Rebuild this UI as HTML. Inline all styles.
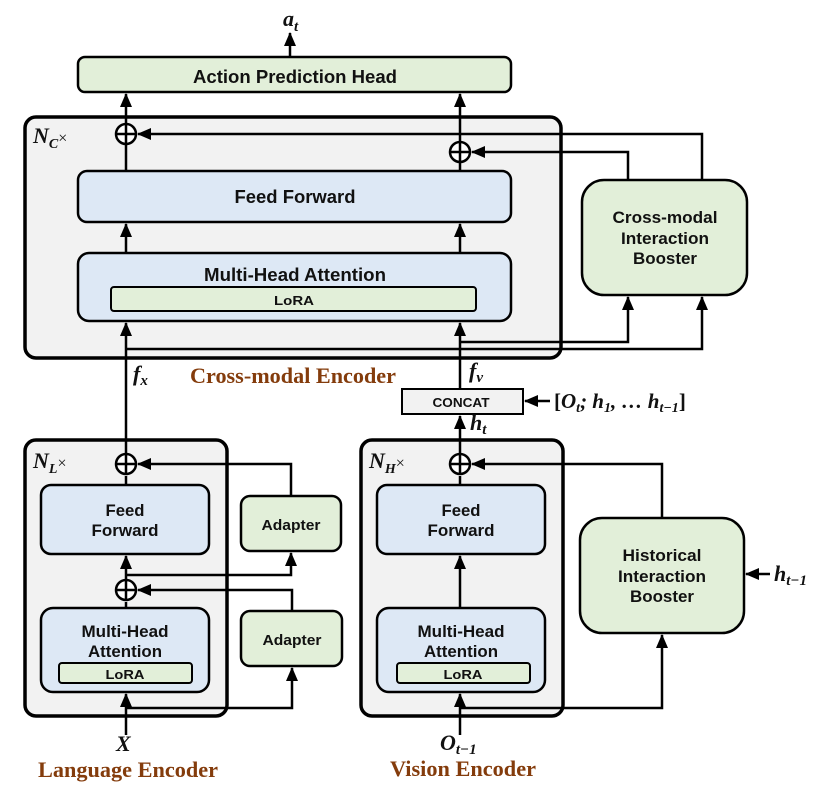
<!DOCTYPE html>
<html><head><meta charset="utf-8"><style>
html,body{margin:0;padding:0;background:#fff;}
svg{display:block;}
.lbl{font-family:"Liberation Sans",sans-serif;font-weight:bold;fill:#111;}
.m{font-family:"Liberation Serif",serif;font-style:italic;font-weight:bold;fill:#111;}
.br{font-family:"Liberation Serif",serif;font-weight:bold;fill:#843c0c;font-size:22px;}
</style></head><body>
<svg width="830" height="799" viewBox="0 0 830 799" xmlns="http://www.w3.org/2000/svg">
<defs>
<marker id="b" markerWidth="14" markerHeight="12" refX="13" refY="6" orient="auto" markerUnits="userSpaceOnUse" viewBox="0 0 14 12">
<path d="M0,0 L14,6 L0,12 z" fill="#000"/></marker>
</defs>
<g stroke="#000" fill="none" stroke-width="2.5">
<rect x="25" y="117" width="536" height="241" rx="11" fill="#f2f2f2" stroke-width="3.5"/>
<rect x="25" y="440" width="202" height="276" rx="11" fill="#f2f2f2" stroke-width="3.5"/>
<rect x="361" y="440" width="202" height="276" rx="11" fill="#f2f2f2" stroke-width="3.5"/>
<rect x="78" y="57" width="433" height="35" rx="7" fill="#e2efd9"/>
<rect x="78" y="171" width="433" height="51" rx="9" fill="#dde8f5"/>
<rect x="78" y="253" width="433" height="68" rx="11" fill="#dde8f5"/>
<rect x="111" y="287" width="365" height="24" rx="3" fill="#e2efd9" stroke-width="2"/>
<rect x="582" y="180" width="165" height="115" rx="22" fill="#e2efd9"/>
<rect x="402" y="389" width="121" height="25" fill="#f2f2f2" stroke-width="2"/>
<rect x="41" y="485" width="168" height="69" rx="10" fill="#dde8f5"/>
<rect x="41" y="608" width="168" height="84" rx="12" fill="#dde8f5"/>
<rect x="59" y="663" width="133" height="20" rx="3" fill="#e2efd9" stroke-width="2"/>
<rect x="241" y="496" width="100" height="55" rx="9" fill="#e2efd9"/>
<rect x="241" y="611" width="101" height="55" rx="9" fill="#e2efd9"/>
<rect x="377" y="485" width="168" height="69" rx="10" fill="#dde8f5"/>
<rect x="377" y="608" width="168" height="84" rx="12" fill="#dde8f5"/>
<rect x="397" y="663" width="133" height="20" rx="3" fill="#e2efd9" stroke-width="2"/>
<rect x="580" y="518" width="164" height="115" rx="22" fill="#e2efd9"/>

<line x1="290" y1="57" x2="290" y2="33" marker-end="url(#b)"/>
<line x1="126" y1="171" x2="126" y2="94" marker-end="url(#b)"/>
<line x1="460" y1="171" x2="460" y2="94" marker-end="url(#b)"/>
<line x1="126" y1="253" x2="126" y2="224" marker-end="url(#b)"/>
<line x1="460" y1="253" x2="460" y2="224" marker-end="url(#b)"/>
<line x1="126" y1="464" x2="126" y2="323" marker-end="url(#b)"/>
<line x1="460" y1="389" x2="460" y2="323" marker-end="url(#b)"/>
<polyline points="702,180 702,134 138,134" marker-end="url(#b)"/>
<polyline points="628,180 628,152 472,152" marker-end="url(#b)"/>
<polyline points="460,342 628,342 628,297" marker-end="url(#b)"/>
<polyline points="126,349 702,349 702,297" marker-end="url(#b)"/>
<line x1="550" y1="401" x2="525" y2="401" marker-end="url(#b)"/>
<line x1="460" y1="464" x2="460" y2="416" marker-end="url(#b)"/>
<polyline points="291,496 291,464 138,464" marker-end="url(#b)"/>
<line x1="126" y1="485" x2="126" y2="476"/>
<line x1="126" y1="590" x2="126" y2="556" marker-end="url(#b)"/>
<polyline points="126,575 291,575 291,553" marker-end="url(#b)"/>
<polyline points="292,611 292,590 138,590" marker-end="url(#b)"/>
<line x1="126" y1="608" x2="126" y2="602"/>
<line x1="126" y1="735" x2="126" y2="694" marker-end="url(#b)"/>
<polyline points="126,708 292,708 292,668" marker-end="url(#b)"/>
<polyline points="662,518 662,464 472,464" marker-end="url(#b)"/>
<line x1="460" y1="485" x2="460" y2="476"/>
<line x1="460" y1="608" x2="460" y2="556" marker-end="url(#b)"/>
<line x1="460" y1="735" x2="460" y2="694" marker-end="url(#b)"/>
<polyline points="460,708 662,708 662,635" marker-end="url(#b)"/>
<line x1="770" y1="574" x2="746" y2="574" marker-end="url(#b)"/>
<g fill="#fff">
<circle cx="126" cy="134" r="10"/><circle cx="460" cy="152" r="10"/>
<circle cx="126" cy="464" r="10"/><circle cx="126" cy="590" r="10"/><circle cx="460" cy="464" r="10"/>
</g>
<path d="M116,134h20M126,124v20 M450,152h20M460,142v20 M116,464h20M126,454v20 M116,590h20M126,580v20 M450,464h20M460,454v20"/>
</g>

<g class="lbl" text-anchor="middle">
<text x="295" y="83" font-size="18" textLength="204" lengthAdjust="spacingAndGlyphs">Action Prediction Head</text>
<text x="295" y="203" font-size="18" textLength="121" lengthAdjust="spacingAndGlyphs">Feed Forward</text>
<text x="295" y="281" font-size="18" textLength="182" lengthAdjust="spacingAndGlyphs">Multi-Head Attention</text>
<text x="294" y="305" font-size="13" textLength="40" lengthAdjust="spacingAndGlyphs">LoRA</text>
<text x="665" y="223" font-size="17" textLength="105" lengthAdjust="spacingAndGlyphs">Cross-modal</text>
<text x="665" y="244" font-size="17" textLength="88" lengthAdjust="spacingAndGlyphs">Interaction</text>
<text x="665" y="264" font-size="17" textLength="64" lengthAdjust="spacingAndGlyphs">Booster</text>
<text x="461" y="407" font-size="13" textLength="57" lengthAdjust="spacingAndGlyphs">CONCAT</text>

<text x="125" y="516" font-size="17" textLength="39" lengthAdjust="spacingAndGlyphs">Feed</text>
<text x="125" y="536" font-size="17" textLength="67" lengthAdjust="spacingAndGlyphs">Forward</text>
<text x="125" y="637" font-size="17" textLength="87" lengthAdjust="spacingAndGlyphs">Multi-Head</text>
<text x="125" y="657" font-size="17" textLength="74" lengthAdjust="spacingAndGlyphs">Attention</text>
<text x="125" y="679" font-size="13" textLength="39" lengthAdjust="spacingAndGlyphs">LoRA</text>
<text x="291" y="530" font-size="15" textLength="59" lengthAdjust="spacingAndGlyphs">Adapter</text>
<text x="292" y="645" font-size="15" textLength="59" lengthAdjust="spacingAndGlyphs">Adapter</text>

<text x="461" y="516" font-size="17" textLength="39" lengthAdjust="spacingAndGlyphs">Feed</text>
<text x="461" y="536" font-size="17" textLength="67" lengthAdjust="spacingAndGlyphs">Forward</text>
<text x="461" y="637" font-size="17" textLength="87" lengthAdjust="spacingAndGlyphs">Multi-Head</text>
<text x="461" y="657" font-size="17" textLength="74" lengthAdjust="spacingAndGlyphs">Attention</text>
<text x="463" y="679" font-size="13" textLength="39" lengthAdjust="spacingAndGlyphs">LoRA</text>
<text x="662" y="561" font-size="17" textLength="79" lengthAdjust="spacingAndGlyphs">Historical</text>
<text x="662" y="582" font-size="17" textLength="88" lengthAdjust="spacingAndGlyphs">Interaction</text>
<text x="662" y="602" font-size="17" textLength="64" lengthAdjust="spacingAndGlyphs">Booster</text>
</g>

<text class="m" x="283" y="26" font-size="22">a<tspan font-size="15" dy="5">t</tspan></text>
<text class="m" x="33" y="143" font-size="22">N<tspan font-size="14" dy="5">C</tspan><tspan dy="-5" font-style="normal" font-weight="normal" font-size="16">×</tspan></text>
<text class="m" x="33" y="468" font-size="22">N<tspan font-size="14" dy="5">L</tspan><tspan dy="-5" font-style="normal" font-weight="normal" font-size="16">×</tspan></text>
<text class="m" x="369" y="468" font-size="22">N<tspan font-size="14" dy="5">H</tspan><tspan dy="-5" font-style="normal" font-weight="normal" font-size="16">×</tspan></text>
<text class="m" x="133" y="381" font-size="22">f<tspan font-size="15" dy="4">x</tspan></text>
<text class="m" x="469" y="378" font-size="22">f<tspan font-size="15" dy="4">v</tspan></text>
<text class="m" x="470" y="430" font-size="22">h<tspan font-size="15" dy="4">t</tspan></text>
<text class="m" x="554" y="408" font-size="21"><tspan font-style="normal">[</tspan>O<tspan font-size="14" dy="4">t</tspan><tspan dy="-4">; h</tspan><tspan font-size="14" dy="4">1</tspan><tspan dy="-4">, … h</tspan><tspan font-size="14" dy="4">t−1</tspan><tspan dy="-4" font-style="normal">]</tspan></text>
<text class="m" x="774" y="581" font-size="22">h<tspan font-size="15" dy="4">t−1</tspan></text>
<text class="m" x="116" y="751" font-size="22">X</text>
<text class="m" x="440" y="750" font-size="22">O<tspan font-size="15" dy="4">t−1</tspan></text>

<text class="br" x="190" y="383" textLength="206" lengthAdjust="spacingAndGlyphs">Cross-modal Encoder</text>
<text class="br" x="38" y="777" textLength="180" lengthAdjust="spacingAndGlyphs">Language Encoder</text>
<text class="br" x="390" y="776" textLength="146" lengthAdjust="spacingAndGlyphs">Vision Encoder</text>
</svg>
</body></html>
